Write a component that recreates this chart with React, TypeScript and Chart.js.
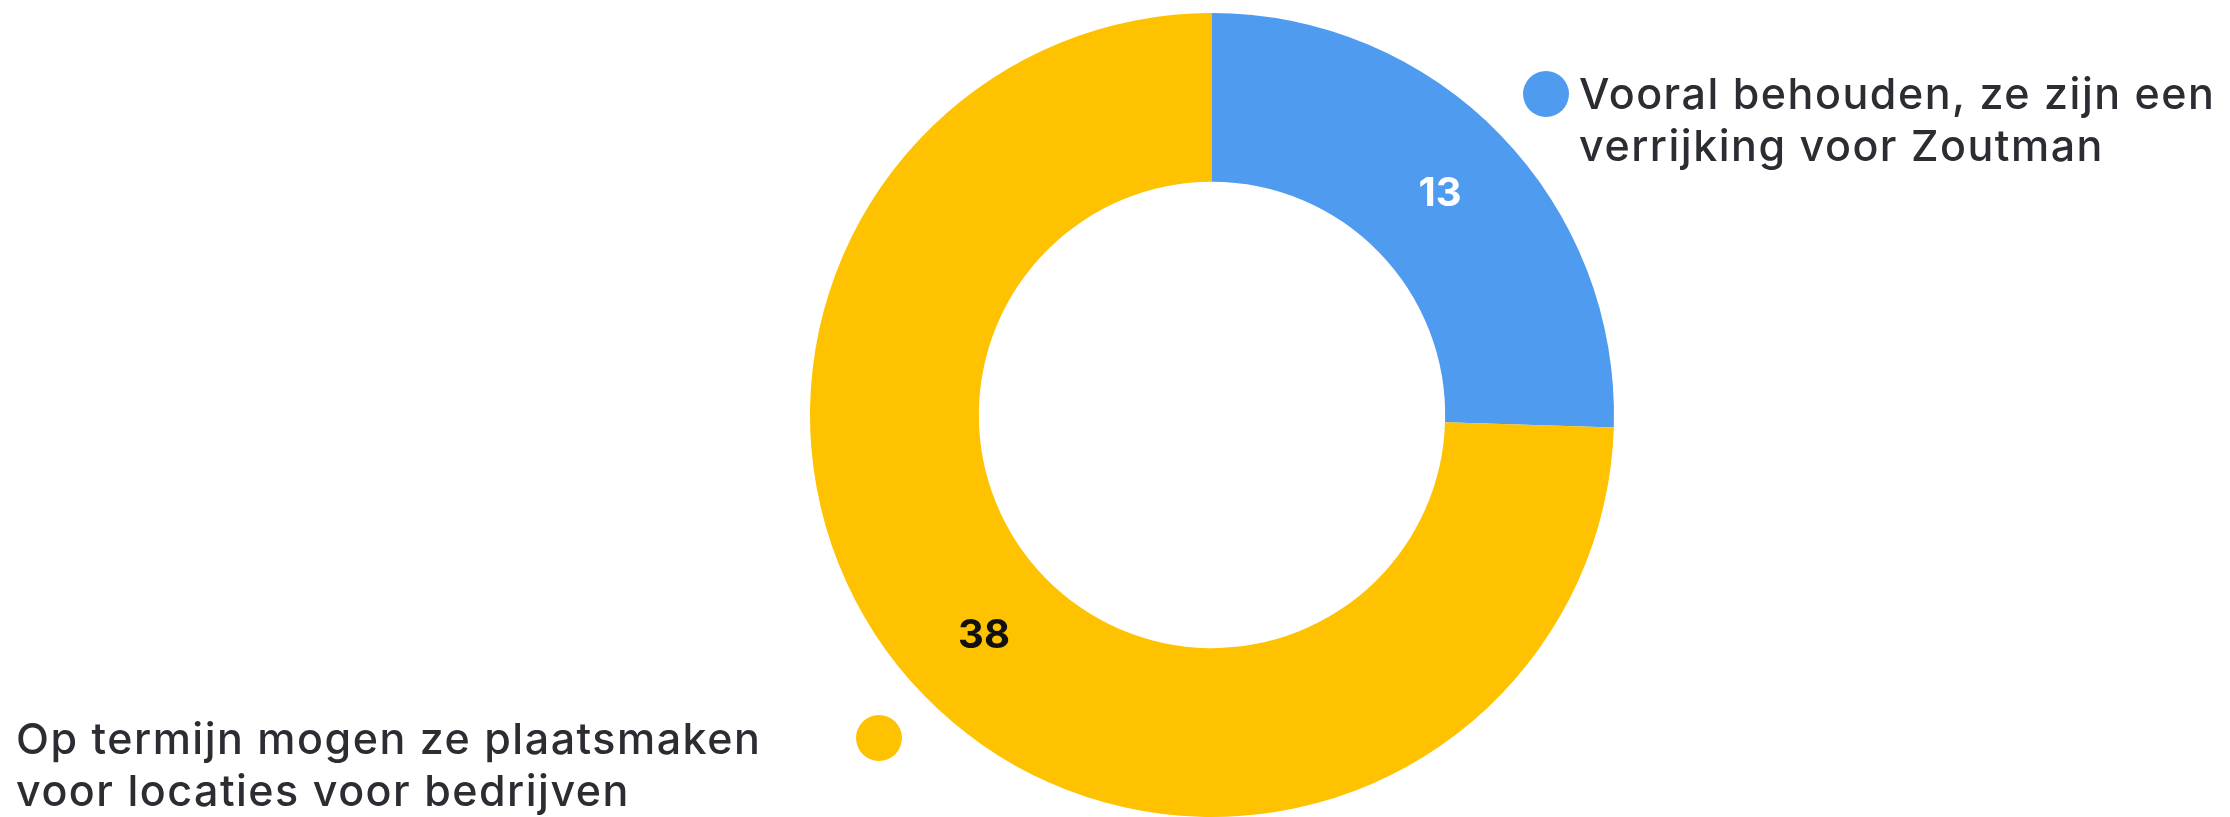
import React, { useEffect, useRef } from "react";
import { Chart, registerables } from "chart.js";

Chart.register(...registerables);

const categories = [
  ["Vooral behouden, ze zijn een", "verrijking voor Zoutman"],
  ["Op termijn mogen ze plaatsmaken", "voor locaties voor bedrijven"],
];
const values = [13, 38];
const colors = ["#4f9bf0", "#fec200"];
const labelColors = ["#ffffff", "#111111"];

const FONT = "Inter, 'Noto Sans', sans-serif";

const valueLabelPlugin = {
  id: "valueLabels",
  afterDatasetsDraw(chart: any) {
    const ctx = chart.ctx;
    const meta = chart.getDatasetMeta(0);
    ctx.save();
    ctx.font = `bold 40px ${FONT}`;
    ctx.textAlign = "center";
    ctx.textBaseline = "middle";
    meta.data.forEach((arc: any, i: number) => {
      const p = arc.tooltipPosition();
      ctx.fillStyle = labelColors[i];
      ctx.fillText(String(chart.data.datasets[0].data[i]), p.x, p.y);
    });
    ctx.restore();
  },
};

const customLegendPlugin = {
  id: "customLegend",
  afterDraw(chart: any) {
    const ctx = chart.ctx;
    ctx.save();
    ctx.font = `500 43px ${FONT}`;
    try { (ctx as any).letterSpacing = "1.5px"; } catch (e) {}
    ctx.textBaseline = "middle";
    const lineH = 52;
    {
      const dotX = 1546, dotY = 94;
      ctx.fillStyle = colors[0];
      ctx.beginPath();
      ctx.arc(dotX, dotY, 23, 0, Math.PI * 2);
      ctx.fill();
      ctx.fillStyle = "#2b2d33";
      ctx.textAlign = "left";
      (chart.data.labels[0] as string[]).forEach((t, j) => {
        ctx.fillText(t, 1579, dotY + 2 + j * lineH);
      });
    }
    {
      const dotX = 879, dotY = 738;
      ctx.fillStyle = colors[1];
      ctx.beginPath();
      ctx.arc(dotX, dotY, 23, 0, Math.PI * 2);
      ctx.fill();
      ctx.fillStyle = "#2b2d33";
      ctx.textAlign = "left";
      (chart.data.labels[1] as string[]).forEach((t, j) => {
        ctx.fillText(t, 16, dotY + 3 + j * lineH);
      });
    }
    ctx.restore();
  },
};

export default function App() {
  const ref = useRef<HTMLCanvasElement>(null);
  useEffect(() => {
    document.body.style.margin = "0";
    const chart = new Chart(ref.current!, {
      type: "doughnut",
      data: {
        labels: categories as any,
        datasets: [
          {
            data: values,
            backgroundColor: colors,
            borderWidth: 0,
            hoverOffset: 0,
          },
        ],
      },
      options: {
        responsive: false,
        animation: false,
        cutout: "58%",
        layout: { padding: { left: 194, right: 0, top: 13, bottom: 0 } },
        plugins: {
          legend: { display: false },
          tooltip: { enabled: false },
        },
      },
      plugins: [valueLabelPlugin, customLegendPlugin],
    });
    return () => chart.destroy();
  }, []);
  return (
    <div style={{ position: "absolute", left: 0, top: 0, width: 2230, height: 817, background: "#fff" }}>
      <canvas ref={ref} width={2230} height={817} style={{ width: 2230, height: 817 }} />
    </div>
  );
}
